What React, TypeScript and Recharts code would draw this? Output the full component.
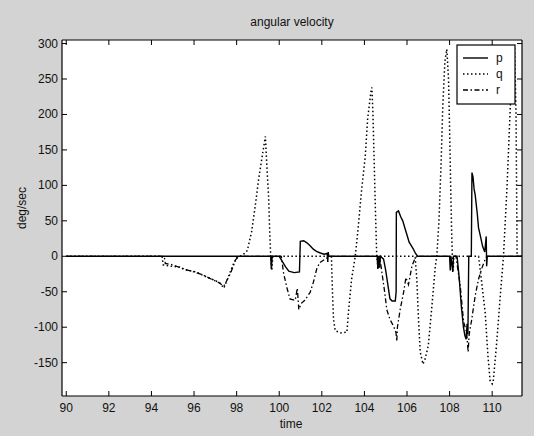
import React from 'react';
import { LineChart, Line, XAxis, YAxis, CartesianGrid } from 'recharts';

const xTicks = [90, 92, 94, 96, 98, 100, 102, 104, 106, 108, 110];
const yTicks = [-150, -100, -50, 0, 50, 100, 150, 200, 250, 300];
const xDomain: [number, number] = [89.8, 111.4];
const yDomain: [number, number] = [-197, 305];

const pSeries: [number, number][] = [
  [90, 0], [99.6, 0], [99.63, -18], [99.67, 0], [100.0, 0], [100.1, -5], [100.3, -15], [100.45, -21],
  [100.7, -23], [100.95, -22], [100.99, 21], [101.15, 22], [101.3, 19], [101.45, 15], [101.6, 10],
  [101.75, 7], [101.9, 5], [102.1, 3], [102.25, 4], [102.28, -8], [102.3, 6], [102.33, 0],
  [104.6, 0], [104.63, -18], [104.66, 0], [104.72, -16], [104.75, 0], [104.9, -4], [105.0, -20],
  [105.1, -40], [105.2, -60], [105.3, -63], [105.45, -63], [105.49, -50], [105.5, 62], [105.6, 64],
  [105.7, 56], [105.8, 50], [105.9, 40], [106.0, 30], [106.1, 20], [106.2, 15], [106.3, 10],
  [106.4, 4], [106.5, 0], [108.0, 0], [108.03, -20], [108.06, 0], [108.15, -22], [108.18, 0],
  [108.35, 0], [108.45, -30], [108.55, -70], [108.65, -100], [108.72, -112], [108.78, -117],
  [108.82, -95], [108.86, -110], [108.9, 0], [109.02, 0], [109.05, 118], [109.1, 112], [109.15, 95],
  [109.2, 87], [109.3, 60], [109.36, 40], [109.45, 28], [109.55, 14], [109.65, 6], [109.72, 28],
  [109.74, -14], [109.77, 0], [111.4, 0],
];

const qSeries: [number, number][] = [
  [90, 0], [94.5, 0], [94.55, -12], [94.9, -14], [95.3, -15], [95.7, -20], [96.1, -22], [96.5, -28],
  [96.9, -33], [97.2, -37], [97.4, -45], [97.6, -30], [97.8, -14], [98.0, -2], [98.3, 2], [98.5, 8],
  [98.7, 34], [98.87, 70], [99.03, 108], [99.2, 141], [99.35, 169], [99.42, 127], [99.5, 85],
  [99.55, 38], [99.6, 0], [99.65, -20], [99.7, 0], [102.45, 0], [102.5, -50], [102.55, -89],
  [102.63, -105], [102.9, -108], [103.18, -107], [103.25, -79], [103.4, -32], [103.57, 0],
  [103.7, 38], [103.87, 94], [104.04, 141], [104.15, 193], [104.3, 231], [104.35, 238],
  [104.4, 202], [104.46, 132], [104.52, 62], [104.58, 0], [104.65, -18], [104.7, 0], [106.38, 0],
  [106.46, -32], [106.54, -89], [106.62, -135], [106.75, -152], [106.85, -145], [107.0, -126],
  [107.17, -70], [107.33, -14], [107.4, 0], [107.5, 50], [107.6, 130], [107.68, 211], [107.78, 275],
  [107.87, 292], [107.95, 250], [108.0, 180], [108.05, 100], [108.1, 30], [108.13, 0], [108.17, -20],
  [108.2, 0], [109.36, 0], [109.5, -35], [109.67, -79], [109.8, -140], [109.9, -175], [110.0, -180],
  [110.05, -176], [110.2, -126], [110.38, -56], [110.53, 0], [110.7, 100], [110.85, 211],
  [111.0, 290], [111.05, 295], [111.12, 200], [111.17, 0], [111.4, 0],
];

const rSeries: [number, number][] = [
  [90, 0], [94.6, 0], [94.65, -10], [95.0, -12], [95.5, -18], [96.0, -22], [96.4, -26], [96.8, -32],
  [97.1, -36], [97.4, -42], [97.7, -25], [97.95, -5], [98.1, 0], [100.1, 0], [100.2, -23],
  [100.36, -44], [100.5, -60], [100.75, -62], [100.85, -45], [100.92, -75], [101.05, -66],
  [101.2, -62], [101.45, -51], [101.6, -37], [101.76, -18], [101.9, -9], [102.15, -4], [102.4, 0],
  [104.7, 0], [104.78, -14], [104.95, -50], [105.05, -75], [105.2, -89], [105.36, -98],
  [105.48, -107], [105.52, -120], [105.55, -100], [105.68, -75], [105.84, -51], [105.95, -30],
  [106.07, -40], [106.23, -14], [106.35, -5], [106.45, 0], [108.3, 0], [108.5, -42], [108.66, -93],
  [108.8, -107], [108.87, -135], [108.92, -110], [109.04, -89], [109.2, -56], [109.36, -32],
  [109.5, -18], [109.67, -4], [109.75, 0], [111.4, 0],
];

const seriesNames = ['p', 'q', 'r'];

const toPts = (arr: [number, number][]) => arr.map(([t, v]) => ({ t, v }));
const pPts = toPts(pSeries);
const qPts = toPts(qSeries);
const rPts = toPts(rSeries);

const FONT = '"Liberation Sans", Arial, sans-serif';

const XTickBottom = (props: any) => {
  const { x, y, payload } = props;
  return (
    <g>
      <line x1={x} x2={x} y1={y} y2={y - 5} stroke="#000" strokeWidth={1} />
      <text x={x} y={y + 16} textAnchor="middle" fontSize={12} fontFamily={FONT} fill="#111">
        {payload.value}
      </text>
    </g>
  );
};

const XTickTop = (props: any) => {
  const { x, y } = props;
  return <line x1={x} x2={x} y1={y} y2={y + 5} stroke="#000" strokeWidth={1} />;
};

const YTickLeft = (props: any) => {
  const { x, y, payload } = props;
  return (
    <g>
      <line x1={x} x2={x + 5} y1={y} y2={y} stroke="#000" strokeWidth={1} />
      <text x={x - 4} y={y + 4} textAnchor="end" fontSize={12} fontFamily={FONT} fill="#111">
        {payload.value}
      </text>
    </g>
  );
};

const YTickRight = (props: any) => {
  const { x, y } = props;
  return <line x1={x} x2={x - 5} y1={y} y2={y} stroke="#000" strokeWidth={1} />;
};

const qDash = '1.5 2.5';
const rDash = '5 2.5 1.5 2.5';

export default function App() {
  return (
    <div style={{ position: 'absolute', left: 0, top: 0, width: 534, height: 436, background: '#d3d3d3' }}>
      <LineChart width={534} height={436} margin={{ top: 0, right: 0, bottom: 0, left: 0 }}>
        <CartesianGrid xAxisId="b" yAxisId="l" fill="#fff" horizontal={false} vertical={false} stroke="none" />
        <XAxis
          xAxisId="b"
          dataKey="t"
          type="number"
          domain={xDomain}
          ticks={xTicks}
          allowDataOverflow
          interval={0}
          height={40}
          tickSize={0}
          tickMargin={0}
          tickLine={false}
          tick={XTickBottom}
          axisLine={{ stroke: '#000', strokeWidth: 1.2 }}
        />
        <XAxis
          xAxisId="t"
          orientation="top"
          dataKey="t"
          type="number"
          domain={xDomain}
          ticks={xTicks}
          allowDataOverflow
          interval={0}
          height={40}
          tickSize={0}
          tickMargin={0}
          tickLine={false}
          tick={XTickTop}
          axisLine={{ stroke: '#000', strokeWidth: 1.2 }}
        />
        <YAxis
          yAxisId="l"
          type="number"
          domain={yDomain}
          ticks={yTicks}
          allowDataOverflow
          interval={0}
          width={62}
          tickSize={0}
          tickMargin={0}
          tickLine={false}
          tick={YTickLeft}
          axisLine={{ stroke: '#000', strokeWidth: 1.2 }}
        />
        <YAxis
          yAxisId="r"
          orientation="right"
          type="number"
          domain={yDomain}
          ticks={yTicks}
          allowDataOverflow
          interval={0}
          width={12}
          tickSize={0}
          tickMargin={0}
          tickLine={false}
          tick={YTickRight}
          axisLine={{ stroke: '#000', strokeWidth: 1.2 }}
        />
        <Line xAxisId="b" yAxisId="l" data={qPts} dataKey="v" name="q" type="linear" stroke="#000" strokeWidth={1.5} strokeDasharray={qDash} dot={false} isAnimationActive={false} />
        <Line xAxisId="b" yAxisId="l" data={rPts} dataKey="v" name="r" type="linear" stroke="#000" strokeWidth={1.3} strokeDasharray={rDash} dot={false} isAnimationActive={false} />
        <Line xAxisId="b" yAxisId="l" data={pPts} dataKey="v" name="p" type="linear" stroke="#000" strokeWidth={1.4} dot={false} isAnimationActive={false} />
      </LineChart>
      <svg width={534} height={436} style={{ position: 'absolute', left: 0, top: 0, pointerEvents: 'none' }}>
        <text x={292} y={26} textAnchor="middle" fontSize={12} fontFamily={FONT} fill="#111">angular velocity</text>
        <text x={291} y={428} textAnchor="middle" fontSize={12} fontFamily={FONT} fill="#111">time</text>
        <text x={26} y={208} textAnchor="middle" fontSize={12} fontFamily={FONT} fill="#111" transform="rotate(-90 26 208)">deg/sec</text>
        <rect x={457} y={45} width={58} height={59} fill="#fff" stroke="#000" strokeWidth={1.2} />
        <line x1={463} x2={488} y1={58} y2={58} stroke="#000" strokeWidth={1.4} />
        <line x1={463} x2={488} y1={74} y2={74} stroke="#000" strokeWidth={1.5} strokeDasharray={qDash} />
        <line x1={463} x2={488} y1={90} y2={90} stroke="#000" strokeWidth={1.3} strokeDasharray={rDash} />
        <text x={496} y={62} fontSize={12} fontFamily={FONT} fill="#111">{seriesNames[0]}</text>
        <text x={496} y={78} fontSize={12} fontFamily={FONT} fill="#111">{seriesNames[1]}</text>
        <text x={496} y={94} fontSize={12} fontFamily={FONT} fill="#111">{seriesNames[2]}</text>
      </svg>
    </div>
  );
}
